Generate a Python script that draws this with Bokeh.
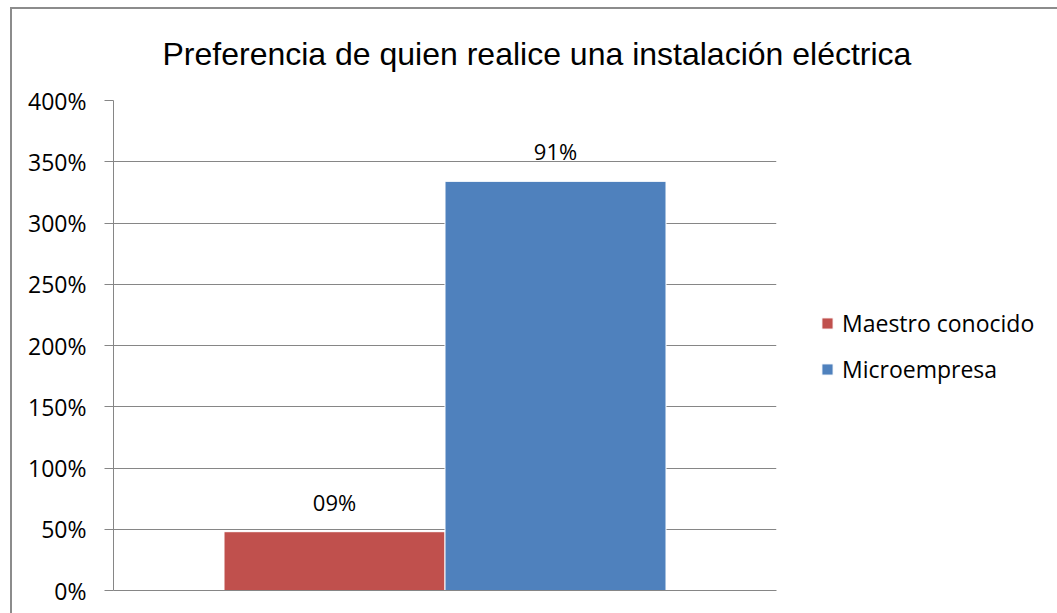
from bokeh.plotting import figure
from bokeh.models import (ColumnDataSource, Range1d, FixedTicker, NumeralTickFormatter,
                          Legend, LegendItem)
from bokeh.core.properties import value
from bokeh.embed import file_html
from bokeh.resources import INLINE

title_text = "Preferencia de quien realice  una instalación eléctrica"
names = ["Maestro conocido", "Microempresa"]
values = [0.48, 3.34]
bar_labels = ["09%", "91%"]
colors = ["#C0504D", "#4F81BD"]
y_ticks = [0, 0.5, 1, 1.5, 2, 2.5, 3, 3.5, 4]

src = ColumnDataSource(dict(
    x=[i + 1 for i in range(len(names))],
    top=values,
    name=names,
    color=colors,
    lab=bar_labels,
))

p = figure(frame_width=663, frame_height=490, output_backend="svg", toolbar_location=None,
           x_range=Range1d(0, 3), y_range=Range1d(0, 4),
           min_border_left=101, min_border_right=281, min_border_top=91,
           min_border_bottom=23)
p.styles = {"border-top": "2px solid #8c8c8c", "border-left": "2px solid #8c8c8c",
            "margin-left": "10px", "margin-top": "7px"}
p.outline_line_color = None
p.background_fill_color = "white"
p.border_fill_color = "white"

p.title.text = title_text
p.title.align = "left"
p.title.vertical_align = "top"
p.title.offset = 49
p.title.standoff = 53
p.title.text_font = "Liberation Sans"
p.title.text_font_size = "32px"
p.title.text_font_style = "normal"
p.title.text_color = "black"

grey = "#868686"
p.xgrid.visible = False
p.ygrid.ticker = FixedTicker(ticks=y_ticks)
p.ygrid.grid_line_color = grey
p.ygrid.grid_line_width = 1

p.yaxis.ticker = FixedTicker(ticks=y_ticks)
p.yaxis.formatter = NumeralTickFormatter(format="0%")
p.yaxis.axis_line_color = grey
p.yaxis.major_tick_line_color = grey
p.yaxis.major_tick_out = 9
p.yaxis.major_tick_in = 0
p.yaxis.minor_tick_line_color = None
p.yaxis.major_label_standoff = 18
p.yaxis.major_label_text_font = "Open Sans"
p.yaxis.major_label_text_font_size = "23px"
p.yaxis.major_label_text_color = "black"

p.xaxis.ticker = FixedTicker(ticks=[])
p.xaxis.axis_line_color = grey
p.xaxis.major_tick_out = 0
p.xaxis.minor_tick_line_color = None
p.xaxis.major_label_text_font_size = "0px"

r = p.vbar(x="x", top="top", width=1.0, bottom=0, source=src,
           fill_color="color", line_color="white", line_width=1)

p.text(x="x", y="top", text="lab", source=src, y_offset=-30,
       text_align="center", text_baseline="alphabetic",
       text_font=value("Open Sans"), text_font_size="22px", text_color="black")

items = [LegendItem(label=names[i], renderers=[r], index=i) for i in range(len(names))]
legend = Legend(items=items, location=(44, 205), orientation="vertical",
                padding=0, margin=0, spacing=14, glyph_width=14, glyph_height=14,
                label_height=24, label_standoff=8,
                label_text_font="Open Sans", label_text_font_size="23px",
                label_text_color="black", border_line_color=None,
                background_fill_alpha=0)
p.add_layout(legend, "right")

open("out.html", "w").write(file_html(p, INLINE))
